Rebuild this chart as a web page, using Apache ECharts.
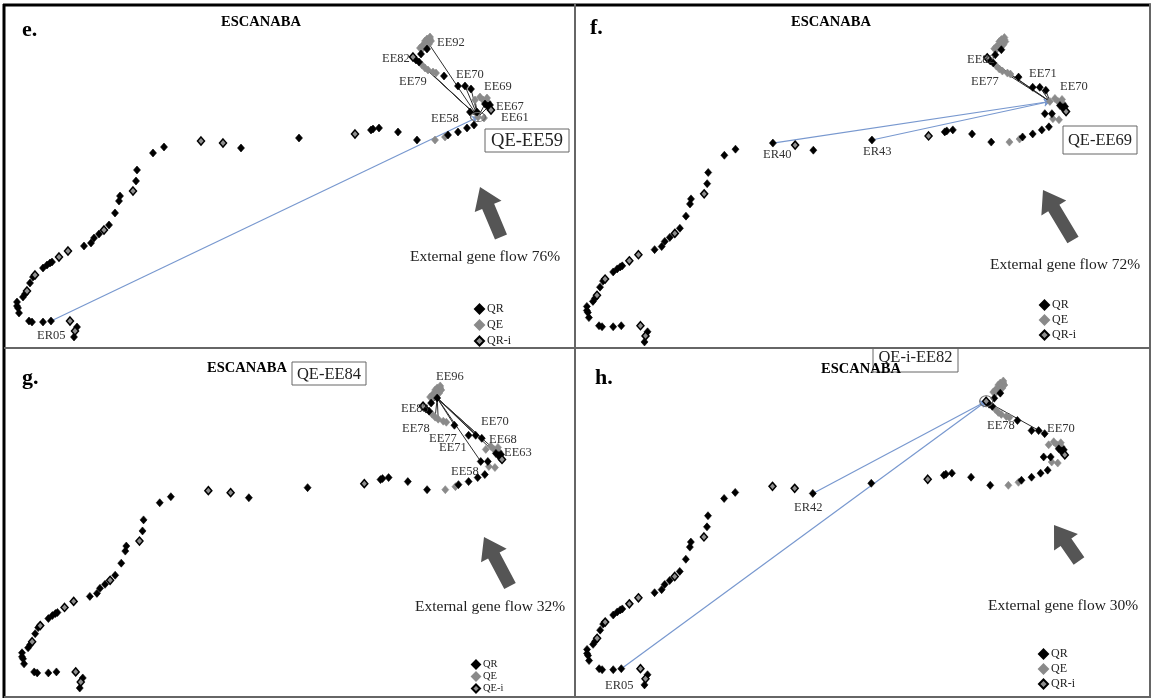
<!DOCTYPE html>
<html>
<head>
<meta charset="utf-8">
<script src="https://cdn.jsdelivr.net/npm/echarts@6/dist/echarts.min.js"></script>
<style>
  html, body { margin: 0; padding: 0; background: #fff; }
  #c { width: 1153px; height: 698px; }
</style>
</head>
<body>
<div id="c"></div>
<script>
// Sampling sites along the Escanaba river: [name, x, y, group]
// x/y are map units (x to the east, y to the south).
const riverSites = [
  ['ER01', 74, 337, 'QR'], ['ER02', 75, 331, 'QRi'], ['ER03', 77, 327, 'QR'], ['ER04', 70, 321, 'QRi'],
  ['ER05', 51, 321, 'QR'], ['ER06', 43, 322, 'QR'], ['ER07', 32, 322, 'QR'], ['ER08', 29, 321, 'QR'],
  ['ER09', 19, 313, 'QR'], ['ER10', 18, 308, 'QR'], ['ER11', 17, 306, 'QR'], ['ER12', 17, 302, 'QR'],
  ['ER13', 23, 297, 'QR'], ['ER14', 25, 294, 'QR'], ['ER15', 27, 291, 'QRi'], ['ER16', 30, 283, 'QR'],
  ['ER17', 33, 277, 'QR'], ['ER18', 35, 275, 'QRi'], ['ER19', 43, 268, 'QR'], ['ER20', 47, 265, 'QR'],
  ['ER21', 50, 263, 'QR'], ['ER22', 52, 262, 'QR'], ['ER23', 59, 257, 'QRi'], ['ER24', 68, 251, 'QRi'],
  ['ER25', 84, 246, 'QR'], ['ER26', 91, 243, 'QR'], ['ER27', 94, 238, 'QR'], ['ER28', 99, 234, 'QR'],
  ['ER29', 104, 230, 'QRi'], ['ER30', 109, 225, 'QR'], ['ER31', 115, 213, 'QR'], ['ER32', 119, 201, 'QR'],
  ['ER33', 120, 196, 'QR'], ['ER34', 133, 191, 'QRi'], ['ER35', 136, 181, 'QR'], ['ER36', 137, 170, 'QR'],
  ['ER37', 153, 153, 'QR'], ['ER39', 164, 147, 'QR'], ['ER40', 201, 141, 'QRi'], ['ER41', 223, 143, 'QRi'],
  ['ER42', 241, 148, 'QR'], ['ER43', 299, 138, 'QR'], ['ER44', 355, 134, 'QRi'], ['ER45', 371, 130, 'QR'],
  ['ER46', 373, 129, 'QR'], ['ER47', 379, 128, 'QR'], ['ER48', 398, 132, 'QR'], ['ER49', 417, 140, 'QR'],
  ['EE50', 435, 140, 'QE'], ['EE51', 445, 137, 'QE'], ['EE52', 448, 135, 'QR'], ['EE53', 458, 132, 'QR'],
  ['EE54', 467, 128, 'QR'], ['EE55', 474, 125, 'QR'], ['EE56', 484, 118, 'QE'], ['EE57', 477, 112, 'QR'],
  ['EE58', 470, 112, 'QR'], ['EE59', 478, 117, 'QE'], ['EE60', 489, 108, 'QR'], ['EE61', 485, 104, 'QR'],
  ['EE62', 488, 106, 'QR'], ['EE63', 491, 110, 'QRi'], ['EE64', 488, 102, 'QE'], ['EE65', 487, 98, 'QE'],
  ['EE66', 483, 100, 'QE'], ['EE67', 490, 105, 'QR'], ['EE68', 480, 97, 'QE'], ['EE69', 475, 100, 'QE'],
  ['EE70', 471, 89, 'QR'], ['EE71', 465, 86, 'QR'], ['EE72', 458, 86, 'QR'], ['EE74', 444, 76, 'QR'],
  ['EE75', 436, 73, 'QE'], ['EE76', 433, 72, 'QE'], ['EE77', 428, 70, 'QE'], ['EE78', 425, 68, 'QE'],
  ['EE79', 422, 65, 'QE'], ['EE80', 419, 62, 'QR'], ['EE81', 416, 60, 'QR'], ['EE82', 413, 57, 'QRi'],
  ['EE83', 421, 54, 'QR'], ['EE84', 427, 49, 'QR'], ['EE85', 420, 48, 'QE'], ['EE86', 422, 46, 'QE'],
  ['EE87', 424, 45, 'QE'], ['EE88', 426, 43, 'QE'], ['EE89', 428, 41, 'QE'], ['EE90', 430, 39, 'QE'],
  ['EE91', 423, 48, 'QE'], ['EE92', 429, 44, 'QE'], ['EE93', 425, 41, 'QE'], ['EE94', 427, 39, 'QE'],
  ['EE95', 431, 41, 'QE'], ['EE96', 430, 37, 'QE']
];

// Assignment targets and the sites whose genotypes trace to them
const targetE = 'EE59';
const sourcesE = ['EE92', 'EE82', 'EE80', 'EE79', 'EE70', 'EE71', 'EE69', 'EE67', 'EE61', 'EE58'];
const externalE = ['ER05'];
const targetF = 'EE69';
const sourcesF = ['EE82', 'EE80', 'EE77', 'EE71', 'EE70'];
const externalF = ['ER40', 'ER43'];
const targetG = 'EE84';
const sourcesG = ['EE96', 'EE83', 'EE78', 'EE77', 'EE74', 'EE71', 'EE70', 'EE68', 'EE63', 'EE58'];
const externalG = [];
const targetH = 'EE82';
const sourcesH = ['EE78', 'EE70'];
const externalH = ['ER42', 'ER05'];

// sites shown in a different group on a given panel
const regroupF = [['ER40', 'QR']];

const targetLabels = ['QE-EE59', 'QE-EE69', 'QE-EE84', 'QE-i-EE82'];
const externalFlow = [76, 72, 32, 30];
const panelLetters = ['e.', 'f.', 'g.', 'h.'];
const legendNames = [
  ['QR', 'QE', 'QR-i'],
  ['QR', 'QE', 'QR-i'],
  ['QR', 'QE', 'QE-i'],
  ['QR', 'QE', 'QR-i']
];
const siteLabelsE = ['EE92', 'EE82', 'EE79', 'EE70', 'EE69', 'EE67', 'EE61', 'EE58', 'ER05'];
const siteLabelsF = ['EE82', 'EE77', 'EE71', 'EE70', 'ER40', 'ER43'];
const siteLabelsG = ['EE96', 'EE83', 'EE78', 'EE70', 'EE77', 'EE68', 'EE71', 'EE63', 'EE58'];
const siteLabelsH = ['EE78', 'EE70', 'ER42', 'ER05'];

// ---------------------------------------------------------------------------
const FONT = '"Liberation Serif", "Times New Roman", serif';
const siteIndex = {};
riverSites.forEach(s => { siteIndex[s[0]] = [s[1], s[2]]; });
const pos = n => siteIndex[n];

// Placement of each panel's map frame (pixels)
const frames = [
  { left: 0, top: 0, width: 577, height: 346 },
  { left: 569.7, top: -2.9, width: 585.7, height: 354 },
  { left: 4.8, top: 348.7, width: 584.3, height: 348.4 },
  { left: 569.9, top: 343.5, width: 581.6, height: 350.5 }
];
const panelData = [
  { target: targetE, sources: sourcesE, ext: externalE, ring: [15, 9], regroup: [] },
  { target: targetF, sources: sourcesF, ext: externalF, ring: null, regroup: regroupF },
  { target: targetG, sources: sourcesG, ext: externalG, ring: null, regroup: [] },
  { target: targetH, sources: sourcesH, ext: externalH, ring: [13, 11], regroup: [] }
];

const kindStyle = {
  QR:  { color: '#000', borderColor: '#000', borderWidth: 0.6, opacity: 1 },
  QE:  { color: '#8a8a8a', borderColor: '#8a8a8a', borderWidth: 0.6, opacity: 1 },
  QRi: { color: '#8f8f8f', borderColor: '#000', borderWidth: 1.5, opacity: 1 }
};
const kinds = ['QR', 'QE', 'QRi'];

const grid = [], xAxis = [], yAxis = [], series = [];
frames.forEach((f, i) => {
  grid.push({ left: f.left, top: f.top, width: f.width, height: f.height, show: false });
  xAxis.push({ gridIndex: i, type: 'value', min: 0, max: 577, show: false });
  yAxis.push({ gridIndex: i, type: 'value', min: 0, max: 346, inverse: true, show: false });
  const pd = panelData[i];
  const regroup = Object.fromEntries(pd.regroup);
  const groupOf = s => regroup[s[0]] || s[3];

  // dark lines: internal sources -> target
  series.push({
    type: 'lines', coordinateSystem: 'cartesian2d', xAxisIndex: i, yAxisIndex: i,
    silent: true, z: 3,
    lineStyle: { color: '#2e2e2e', width: 1, opacity: 1 },
    symbol: ['none', 'none'],
    data: pd.sources.map(s => ({ coords: [pos(s), pos(pd.target)] }))
  });
  // blue lines: external river sites -> target
  series.push({
    type: 'lines', coordinateSystem: 'cartesian2d', xAxisIndex: i, yAxisIndex: i,
    silent: true, z: 3,
    lineStyle: { color: '#7898cf', width: 1.2, opacity: 1 },
    symbol: ['none', 'arrow'], symbolSize: 6,
    data: pd.ext.map(s => ({ coords: [pos(s), pos(pd.target)] }))
  });

  // site markers by group
  ['QE', 'QR', 'QRi'].forEach(k => {
    const ki = kinds.indexOf(k);
    series.push({
      type: 'scatter', name: legendNames[i][ki], xAxisIndex: i, yAxisIndex: i,
      symbol: 'diamond', symbolSize: [7, 8],
      clip: false, z: 5, silent: true,
      itemStyle: kindStyle[k],
      data: riverSites.filter(s => groupOf(s) === k).map(s => [s[1], s[2]])
    });
  });

  // ring around the target site
  if (pd.ring) {
    series.push({
      type: 'scatter', xAxisIndex: i, yAxisIndex: i, symbol: 'circle',
      symbolSize: pd.ring, z: 6, silent: true, clip: false,
      itemStyle: { color: 'rgba(0,0,0,0)', borderColor: '#666', borderWidth: 1, opacity: 1 },
      data: [pos(pd.target)]
    });
  }
});

// legends
const legendPos = [
  { left: 474, top: 303, gap: 4, size: 12, icon: 9 },
  { left: 1039, top: 299, gap: 3, size: 12, icon: 9 },
  { left: 471, top: 659, gap: 1, size: 10.5, icon: 8 },
  { left: 1038, top: 648, gap: 3, size: 12, icon: 9 }
];
const legend = legendPos.map((p, i) => ({
  orient: 'vertical', left: p.left, top: p.top, itemGap: p.gap,
  itemWidth: p.icon, itemHeight: p.icon, icon: 'diamond', padding: 0,
  selectedMode: false,
  textStyle: { fontFamily: FONT, fontSize: p.size, color: '#222', padding: [0, 0, 0, -2] },
  data: legendNames[i]
}));

// ---------------------------------------------------------------------------
// decorations: frame, titles, labels, arrows
const g = [];
function line(x1, y1, x2, y2, color, w) {
  g.push({ type: 'line', shape: { x1, y1, x2, y2 }, style: { stroke: color, lineWidth: w }, z: 30 });
}
function text(t, x, y, opt) {
  g.push({
    type: 'text', x, y, z: 21,
    style: Object.assign({ text: t, font: `12.5px ${FONT}`, fill: '#333', textVerticalAlign: 'middle' }, opt || {})
  });
}
function bigArrow(tip, tail) {
  const dx = tip[0] - tail[0], dy = tip[1] - tail[1];
  const L = Math.hypot(dx, dy), ux = dx / L, uy = dy / L, nx = -uy, ny = ux;
  const hs = 6.5, hh = 14.5, hl = 21;
  const neck = [tip[0] - ux * hl, tip[1] - uy * hl];
  const pts = [
    [tail[0] + nx * hs, tail[1] + ny * hs],
    [neck[0] + nx * hs, neck[1] + ny * hs],
    [neck[0] + nx * hh, neck[1] + ny * hh],
    tip,
    [neck[0] - nx * hh, neck[1] - ny * hh],
    [neck[0] - nx * hs, neck[1] - ny * hs],
    [tail[0] - nx * hs, tail[1] - ny * hs]
  ];
  g.push({ type: 'polygon', shape: { points: pts }, style: { fill: '#555' }, z: 15 });
}
function box(t, x, y, w, h, fs) {
  g.push({ type: 'rect', shape: { x, y, width: w, height: h }, style: { fill: '#fff', stroke: '#666', lineWidth: 1 }, z: 18 });
  text(t, x + w / 2, y + h / 2 + 1, { font: `${fs}px ${FONT}`, fill: '#222', textAlign: 'center' });
}

// titles and panel letters
const titles = [[261, 22], [831, 22], [247, 368], [861, 369]];
const letters = [[22, 30], [590, 28], [22, 378], [595, 378]];
titles.forEach((p, i) => {
  text('ESCANABA', p[0], p[1], { font: `bold 14.5px ${FONT}`, fill: '#000', textAlign: 'center' });
  text(panelLetters[i], letters[i][0], letters[i][1], { font: `bold 22px ${FONT}`, fill: '#000' });
});

// target boxes
box(targetLabels[0], 485, 129, 84, 23, 18.5);
box(targetLabels[1], 1063, 126, 74, 28, 16.5);
box(targetLabels[2], 292, 362, 74, 23, 16.5);
box(targetLabels[3], 873, 341, 85, 31, 16.5);
// the last box runs past the top edge of its panel
g.push({ type: 'rect', shape: { x: 868, y: 336, width: 95, height: 13 }, style: { fill: '#fff' }, z: 25 });

// external gene flow notes + arrows
const flowText = [[410, 257], [990, 265], [415, 607], [988, 606]];
flowText.forEach((p, i) => text('External gene flow ' + externalFlow[i] + '%', p[0], p[1], { font: `15.5px ${FONT}`, fill: '#222' }));
bigArrow([480, 187], [501, 237]);
bigArrow([1043, 190], [1073, 240]);
bigArrow([484, 537], [510, 586]);
bigArrow([1054, 525], [1079, 561]);

// site labels
const labelPosE = [[437, 43], [382, 59], [399, 82], [456, 75], [484, 87], [496, 107], [501, 118], [431, 119], [37, 336]];
const labelPosF = [[967, 60], [971, 82], [1029, 74], [1060, 87], [763, 155], [863, 152]];
const labelPosG = [[436, 377], [401, 409], [402, 429], [481, 422], [429, 439], [489, 440], [439, 448], [504, 453], [451, 472]];
const labelPosH = [[987, 426], [1047, 429], [794, 508], [605, 686]];
[[siteLabelsE, labelPosE], [siteLabelsF, labelPosF], [siteLabelsG, labelPosG], [siteLabelsH, labelPosH]]
  .forEach(([names, ps]) => names.forEach((n, k) => text(n, ps[k][0], ps[k][1])));

// table frame
line(3, 5, 1151, 5, '#000', 3);
line(4, 4, 4, 698, '#000', 3);
line(575, 4, 575, 698, '#666', 2);
line(4, 348, 1151, 348, '#666', 2);
line(1150, 4, 1150, 698, '#666', 2);
line(4, 697, 1151, 697, '#666', 2);

const chart = echarts.init(document.getElementById('c'));
chart.setOption({
  animation: false,
  backgroundColor: '#fff',
  grid, xAxis, yAxis, series, legend,
  graphic: { elements: g }
});
</script>
</body>
</html>
